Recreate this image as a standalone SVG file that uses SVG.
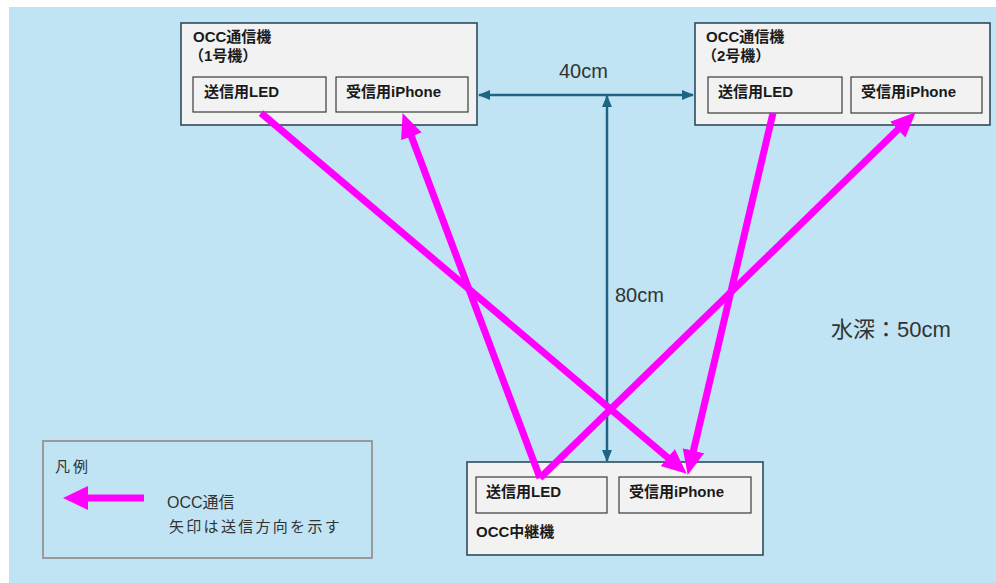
<svg xmlns="http://www.w3.org/2000/svg" width="996" height="583" viewBox="0 0 996 583">
<style>
.box{fill:#f2f2f2;stroke:#2e4a5a;stroke-width:1.6}
.inner{fill:#f2f2f2;stroke:#3a3a3a;stroke-width:1.2}
.lbl{font-family:"Liberation Sans","Noto Sans CJK JP",sans-serif;font-weight:bold;font-size:15px;fill:#1a1a1a}
.txt{font-family:"Liberation Sans","Noto Sans CJK JP",sans-serif;fill:#333333}
.dim{stroke:#1f6385;stroke-width:2.5;fill:none}
.occ{stroke:#ff00ff;stroke-width:7;fill:none}
</style>
<defs>
<marker id="mh" markerUnits="userSpaceOnUse" markerWidth="26" markerHeight="24" refX="2" refY="12" orient="auto" viewBox="0 0 26 24">
<path d="M0,1 L25,12 L0,23 z" fill="#ff00ff"/>
</marker>
<marker id="dh" markerUnits="userSpaceOnUse" markerWidth="12" markerHeight="10" refX="11" refY="5" orient="auto-start-reverse" viewBox="0 0 12 10">
<path d="M0,0 L12,5 L0,10 z" fill="#1f6385"/>
</marker>
</defs>
<rect x="0" y="0" width="996" height="583" fill="#ffffff"/>
<rect x="9" y="7" width="987" height="576" fill="#c0e4f4"/>

<g id="node-occ1">
<rect class="box" x="181" y="23" width="296" height="102"/>
<text class="lbl" x="193" y="42">OCC通信機</text>
<text class="lbl" x="189" y="61">（1号機）</text>
<g id="occ1-led"><rect class="inner" x="193" y="77" width="133" height="35"/><text class="lbl" x="204" y="97">送信用LED</text></g>
<g id="occ1-iphone"><rect class="inner" x="336" y="77" width="132" height="35"/><text class="lbl" x="346" y="97">受信用iPhone</text></g>
</g>

<g id="node-occ2">
<rect class="box" x="695" y="23" width="295" height="102"/>
<text class="lbl" x="706" y="42">OCC通信機</text>
<text class="lbl" x="702" y="61">（2号機）</text>
<g id="occ2-led"><rect class="inner" x="708" y="77" width="134" height="36"/><text class="lbl" x="718" y="97">送信用LED</text></g>
<g id="occ2-iphone"><rect class="inner" x="851" y="77" width="131" height="36"/><text class="lbl" x="861" y="97">受信用iPhone</text></g>
</g>

<g id="node-relay">
<rect class="box" x="467" y="462" width="296" height="93"/>
<g id="relay-led"><rect class="inner" x="476" y="477" width="131" height="36"/><text class="lbl" x="486" y="497">送信用LED</text></g>
<g id="relay-iphone"><rect class="inner" x="619" y="477" width="132" height="36"/><text class="lbl" x="629" y="497">受信用iPhone</text></g>
<text class="lbl" x="476" y="537">OCC中継機</text>
</g>

<g id="legend">
<rect x="43" y="441" width="329" height="117" fill="none" stroke="#9a9a9a" stroke-width="2"/>
<text class="txt" x="55" y="472" font-size="15" letter-spacing="3">凡例</text>
<line x1="144" y1="498" x2="84" y2="498" stroke="#ff00ff" stroke-width="7"/>
<path d="M63,498 L88,486 L88,510 z" fill="#ff00ff"/>
<text class="txt" x="167" y="508" font-size="16">OCC通信</text>
<text class="txt" x="169" y="532" font-size="15" letter-spacing="2.3">矢印は送信方向を示す</text>
</g>

<g id="connectors">
<line class="dim" x1="479" y1="95" x2="693" y2="95" marker-start="url(#dh)" marker-end="url(#dh)"/>
<line class="dim" x1="607" y1="96" x2="607" y2="461" marker-start="url(#dh)" marker-end="url(#dh)"/>
<line class="occ" x1="261" y1="113" x2="669.2" y2="458.8" marker-end="url(#mh)"/>
<line class="occ" x1="540" y1="478" x2="410.7" y2="134.6" marker-end="url(#mh)"/>
<line class="occ" x1="773" y1="113" x2="693" y2="452.6" marker-end="url(#mh)"/>
<line class="occ" x1="540" y1="478" x2="899.2" y2="128.3" marker-end="url(#mh)"/>
</g>

<text class="txt" x="559" y="78" font-size="20">40cm</text>
<text class="txt" x="615" y="302" font-size="20">80cm</text>
<text class="txt" x="831" y="337" font-size="22">水深：50cm</text>
</svg>
